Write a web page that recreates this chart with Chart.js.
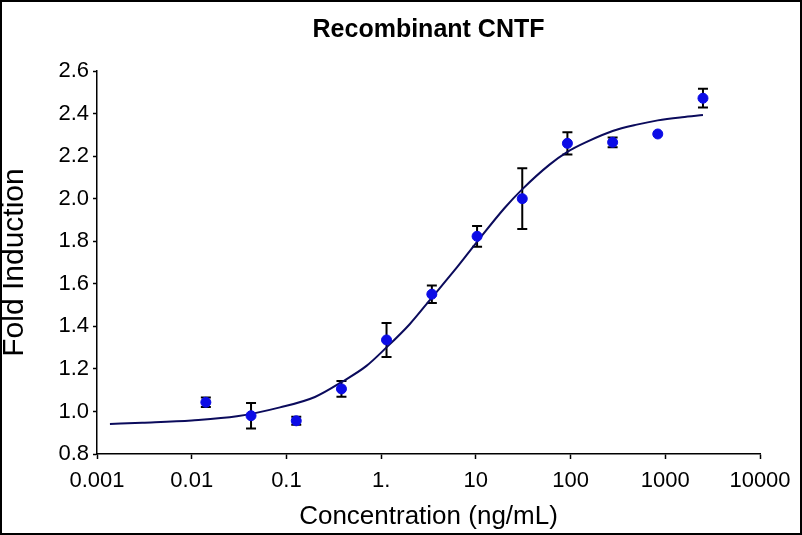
<!DOCTYPE html>
<html>
<head>
<meta charset="utf-8">
<title>Recombinant CNTF</title>
<script src="https://cdn.jsdelivr.net/npm/chart.js@4.4.1/dist/chart.umd.min.js"></script>
<style>
    html, body { margin: 0; padding: 0; background: #fff; }
    #chartBox { width: 802px; height: 535px; }
</style>
</head>
<body>
<div id="chartBox"><canvas id="cntfChart" width="802" height="535"></canvas></div>
<script>
// 测量点 (ng/mL) 及均值、误差
const concentrations = [0.0141, 0.0423, 0.127, 0.381, 1.14, 3.43, 10.3, 30.9, 92.6, 278, 833, 2500];
const foldMeans = [1.043, 0.980, 0.956, 1.106, 1.336, 1.551, 1.823, 2.000, 2.260, 2.265, 2.304, 2.472];
const foldErrors = [0.022, 0.060, 0.019, 0.037, 0.080, 0.041, 0.049, 0.143, 0.052, 0.023, 0, 0.044];

// 拟合曲线（从图上读出的点）
const fitConc = [0.00137, 0.003, 0.01, 0.03, 0.0855, 0.2, 0.389, 0.7, 1.14, 2, 3.43, 6, 10, 20, 31, 60, 92.6, 150, 278, 500, 833, 1500, 2500];
const fitFold = [0.941, 0.947, 0.958, 0.977, 1.019, 1.068, 1.140, 1.214, 1.301, 1.410, 1.535, 1.665, 1.790, 1.955, 2.045, 2.160, 2.220, 2.268, 2.318, 2.348, 2.368, 2.383, 2.393];

// 坐标轴刻度
const xTickValues = [0.001, 0.01, 0.1, 1, 10, 100, 1000, 10000];
const xTickLabels = ['0.001', '0.01', '0.1', '1.', '10', '100', '1000', '10000'];
const yTickValues = [0.8, 1.0, 1.2, 1.4, 1.6, 1.8, 2.0, 2.2, 2.4, 2.6];

const FONT = "Arial, 'Liberation Sans', sans-serif";

// 背景和外框
const framePlugin = {
    id: 'frame',
    beforeDraw(chart) {
        const ctx = chart.ctx;
        ctx.save();
        ctx.fillStyle = '#fff';
        ctx.fillRect(0, 0, chart.width, chart.height);
        ctx.strokeStyle = '#000';
        ctx.lineWidth = 2;
        ctx.strokeRect(1, 1, chart.width - 2, chart.height - 2);
        ctx.restore();
    }
};

// 误差线
const errorBarPlugin = {
    id: 'errorBars',
    beforeDatasetsDraw(chart) {
        const ctx = chart.ctx;
        const xs = chart.scales.x, ys = chart.scales.y;
        ctx.save();
        ctx.strokeStyle = '#000';
        ctx.lineWidth = 2;
        concentrations.forEach((c, i) => {
            const err = foldErrors[i];
            if (!err) return;
            const px = xs.getPixelForValue(c);
            const top = ys.getPixelForValue(foldMeans[i] + err);
            const bot = ys.getPixelForValue(foldMeans[i] - err);
            ctx.beginPath();
            ctx.moveTo(px, top); ctx.lineTo(px, bot);
            ctx.moveTo(px - 5, top); ctx.lineTo(px + 5, top);
            ctx.moveTo(px - 5, bot); ctx.lineTo(px + 5, bot);
            ctx.stroke();
        });
        ctx.restore();
    }
};

const ctx = document.getElementById('cntfChart').getContext('2d');
const cntfChart = new Chart(ctx, {
    type: 'scatter',
    data: {
        datasets: [{
            label: 'Mean',
            data: concentrations.map((c, i) => ({ x: c, y: foldMeans[i] })),
            backgroundColor: '#0c0ce6',
            borderColor: '#0c0ce6',
            pointRadius: 5,
            pointHoverRadius: 5
        }, {
            type: 'line',
            label: 'Fit',
            data: fitConc.map((c, i) => ({ x: c, y: fitFold[i] })),
            borderColor: '#0b0b5c',
            borderWidth: 2,
            pointRadius: 0,
            fill: false,
            cubicInterpolationMode: 'monotone'
        }]
    },
    options: {
        responsive: false,
        animation: false,
        layout: { padding: { left: 0, right: 42, top: 0, bottom: 0 } },
        plugins: {
            legend: { display: false },
            tooltip: { enabled: false },
            title: {
                display: true,
                text: 'Recombinant CNTF',
                color: '#000',
                fullSize: false,
                font: { family: FONT, size: 25, weight: 'bold', lineHeight: 1.2 },
                padding: { top: 15, bottom: 26 }
            }
        },
        scales: {
            x: {
                type: 'logarithmic',
                min: 0.001,
                max: 10000,
                afterBuildTicks(scale) {
                    scale.ticks = xTickValues.map(v => ({ value: v }));
                },
                afterFit(scale) {
                    scale.height = 81;
                },
                ticks: {
                    color: '#000',
                    padding: 9,
                    maxRotation: 0,
                    autoSkip: false,
                    font: { family: FONT, size: 22 },
                    callback: (v, i) => xTickLabels[i]
                },
                grid: {
                    display: true,
                    drawOnChartArea: false,
                    drawTicks: true,
                    tickLength: 5,
                    tickColor: '#000',
                    tickWidth: 1.5
                },
                border: { display: true, color: '#000', width: 1.5 },
                title: {
                    display: true,
                    text: 'Concentration (ng/mL)',
                    color: '#000',
                    font: { family: FONT, size: 26, lineHeight: 1.2 },
                    padding: { top: 0, bottom: 3 }
                }
            },
            y: {
                min: 0.8,
                max: 2.6,
                afterBuildTicks(scale) {
                    scale.ticks = yTickValues.map(v => ({ value: v }));
                },
                afterFit(scale) {
                    scale.width = 97;
                },
                ticks: {
                    color: '#000',
                    padding: 4,
                    autoSkip: false,
                    font: { family: FONT, size: 22 },
                    callback: v => Number(v).toFixed(1)
                },
                grid: {
                    display: true,
                    drawOnChartArea: false,
                    drawTicks: true,
                    tickLength: 4,
                    tickColor: '#000',
                    tickWidth: 1.5
                },
                border: { display: true, color: '#000', width: 1.5 },
                title: {
                    display: true,
                    text: 'Fold Induction',
                    color: '#000',
                    font: { family: FONT, size: 30, lineHeight: 1.0 },
                    padding: { top: 0, bottom: 0 }
                }
            }
        }
    },
    plugins: [framePlugin, errorBarPlugin]
});
</script>
</body>
</html>
